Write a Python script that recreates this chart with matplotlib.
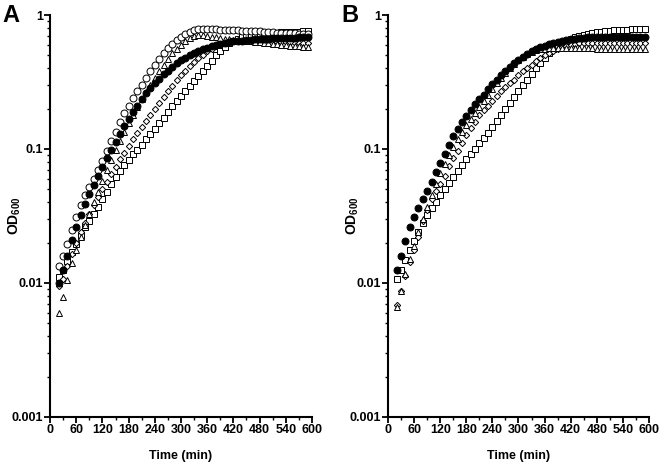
import numpy as np
import matplotlib
matplotlib.use("Agg")
from matplotlib import pyplot as plt
from matplotlib.ticker import LogLocator, FixedLocator, MultipleLocator, NullFormatter

plt.rcParams['font.family'] = ['Liberation Sans', 'DejaVu Sans']
plt.rcParams['font.weight'] = 'bold'
plt.rcParams['mathtext.fontset'] = 'custom'
plt.rcParams['mathtext.rm'] = 'Liberation Sans:bold'
plt.rcParams['mathtext.bf'] = 'Liberation Sans:bold'

# time points (min)
time_min = np.arange(20, 600, 10)

# panel A
a_filled = [0.010, 0.0125, 0.016, 0.021, 0.026, 0.032, 0.039, 0.046, 0.054, 0.063,
            0.073, 0.085, 0.098, 0.113, 0.13, 0.148, 0.168, 0.19, 0.21, 0.235,
            0.26, 0.285, 0.31, 0.335, 0.36, 0.385, 0.41, 0.435, 0.46, 0.48,
            0.50, 0.52, 0.54, 0.555, 0.57, 0.585, 0.60, 0.61, 0.62, 0.63,
            0.635, 0.64, 0.645, 0.65, 0.655, 0.66, 0.66, 0.665, 0.665, 0.67,
            0.67, 0.67, 0.675, 0.675, 0.675, 0.68, 0.68, 0.68]
a_circle = [0.0135, 0.016, 0.0195, 0.025, 0.031, 0.038, 0.045, 0.052, 0.06, 0.07,
            0.082, 0.097, 0.115, 0.135, 0.16, 0.185, 0.21, 0.24, 0.27, 0.30,
            0.34, 0.38, 0.42, 0.47, 0.52, 0.57, 0.61, 0.65, 0.69, 0.72,
            0.75, 0.77, 0.79, 0.79, 0.785, 0.78, 0.78, 0.775, 0.775, 0.77,
            0.77, 0.77, 0.765, 0.765, 0.76, 0.76, 0.755, 0.75, 0.75, 0.745,
            0.74, 0.74, 0.735, 0.73, 0.73, 0.725, 0.72, 0.72]
a_triangle = [0.006, 0.0078, 0.0105, 0.014, 0.0175, 0.022, 0.027, 0.033, 0.040, 0.048,
              0.058, 0.07, 0.083, 0.098, 0.115, 0.135, 0.155, 0.18, 0.205, 0.235,
              0.265, 0.30, 0.34, 0.38, 0.42, 0.47, 0.52, 0.56, 0.60, 0.64,
              0.67, 0.70, 0.71, 0.71, 0.70, 0.69, 0.68, 0.67, 0.665, 0.66,
              0.655, 0.65, 0.645, 0.64, 0.635, 0.63, 0.625, 0.62, 0.615, 0.61,
              0.605, 0.60, 0.595, 0.59, 0.59, 0.585, 0.58, 0.58]
a_diamond = [0.0095, 0.0108, 0.0133, 0.0165, 0.02, 0.024, 0.028, 0.033, 0.038, 0.044,
             0.05, 0.057, 0.065, 0.074, 0.084, 0.094, 0.105, 0.118, 0.131, 0.146,
             0.162, 0.18, 0.2, 0.22, 0.245, 0.27, 0.295, 0.325, 0.355, 0.385,
             0.415, 0.445, 0.475, 0.505, 0.535, 0.56, 0.585, 0.605, 0.62, 0.63,
             0.64, 0.645, 0.645, 0.645, 0.645, 0.64, 0.64, 0.64, 0.635, 0.635,
             0.63, 0.63, 0.625, 0.625, 0.62, 0.62, 0.615, 0.615]
a_square = [0.011, 0.0125, 0.0145, 0.017, 0.0195, 0.0225, 0.026, 0.029, 0.033, 0.037,
            0.042, 0.048, 0.055, 0.062, 0.069, 0.076, 0.083, 0.091, 0.099, 0.108,
            0.118, 0.129, 0.141, 0.155, 0.171, 0.19, 0.21, 0.23, 0.25, 0.27,
            0.295, 0.32, 0.35, 0.38, 0.415, 0.455, 0.50, 0.54, 0.58, 0.615,
            0.645, 0.665, 0.685, 0.70, 0.71, 0.72, 0.725, 0.73, 0.735, 0.74,
            0.74, 0.745, 0.745, 0.75, 0.75, 0.75, 0.755, 0.755]

# panel B
b_filled = [0.0125, 0.016, 0.0205, 0.026, 0.031, 0.036, 0.042, 0.049, 0.057, 0.067,
            0.078, 0.092, 0.108, 0.125, 0.142, 0.158, 0.175, 0.195, 0.215, 0.235,
            0.255, 0.28, 0.305, 0.33, 0.355, 0.38, 0.41, 0.44, 0.465, 0.49,
            0.515, 0.535, 0.555, 0.575, 0.59, 0.605, 0.62, 0.63, 0.64, 0.65,
            0.66, 0.665, 0.67, 0.675, 0.68, 0.685, 0.69, 0.69, 0.69, 0.69,
            0.69, 0.69, 0.685, 0.685, 0.685, 0.68, 0.68, 0.68]
b_triangle = [0.0066, 0.0087, 0.0117, 0.015, 0.019, 0.024, 0.03, 0.037, 0.045, 0.055,
              0.066, 0.077, 0.09, 0.104, 0.118, 0.133, 0.15, 0.168, 0.187, 0.207,
              0.23, 0.255, 0.28, 0.31, 0.34, 0.37, 0.40, 0.43, 0.46, 0.49,
              0.51, 0.53, 0.545, 0.555, 0.56, 0.565, 0.57, 0.57, 0.57, 0.57,
              0.57, 0.568, 0.566, 0.565, 0.565, 0.563, 0.562, 0.56, 0.56, 0.558,
              0.558, 0.556, 0.556, 0.555, 0.555, 0.555, 0.553, 0.553]
b_diamond = [0.0068, 0.0087, 0.0113, 0.0144, 0.0177, 0.022, 0.029, 0.035, 0.042, 0.049,
             0.055, 0.063, 0.075, 0.086, 0.097, 0.11, 0.127, 0.144, 0.16, 0.178,
             0.195, 0.21, 0.23, 0.25, 0.27, 0.29, 0.31, 0.33, 0.355, 0.38,
             0.40, 0.425, 0.45, 0.475, 0.50, 0.52, 0.54, 0.56, 0.575, 0.59,
             0.60, 0.61, 0.615, 0.62, 0.62, 0.62, 0.62, 0.62, 0.62, 0.62,
             0.62, 0.62, 0.618, 0.618, 0.618, 0.615, 0.615, 0.615]
b_square = [0.0108, 0.0126, 0.0148, 0.0175, 0.0205, 0.024, 0.028, 0.032, 0.036, 0.04,
            0.045, 0.05, 0.056, 0.062, 0.069, 0.076, 0.084, 0.092, 0.10, 0.11,
            0.12, 0.132, 0.147, 0.163, 0.18, 0.2, 0.22, 0.245, 0.27, 0.30,
            0.33, 0.36, 0.40, 0.44, 0.48, 0.52, 0.56, 0.59, 0.62, 0.645,
            0.665, 0.685, 0.70, 0.715, 0.725, 0.735, 0.745, 0.75, 0.76, 0.765,
            0.77, 0.77, 0.775, 0.775, 0.78, 0.78, 0.78, 0.785]

panels = [
    ('A', [a_square, a_diamond, a_triangle, a_circle, a_filled]),
    ('B', [b_square, b_diamond, b_triangle, None, b_filled]),
]
# marker style for each series, same order as above
styles = [
    dict(marker='s', ms=4.6, mfc='white'),
    dict(marker='D', ms=3.2, mfc='white'),
    dict(marker='^', ms=5.0, mfc='white'),
    dict(marker='o', ms=5.0, mfc='white'),
    dict(marker='o', ms=5.0, mfc='black'),
]

fig = plt.figure(figsize=(6.6, 4.66), dpi=100)
boxes = [[0.0758, 0.1052, 0.3969, 0.8626], [0.5879, 0.1052, 0.3954, 0.8626]]

for (letter, series), box in zip(panels, boxes):
    ax = fig.add_axes(box)
    for vals, st in zip(series, styles):
        if vals is None:
            continue
        ax.plot(time_min, vals, linestyle='none', color='black', mec='black',
                mew=0.7, clip_on=False, **st)
    ax.set_yscale('log')
    ax.set_xlim(0, 600)
    ax.set_ylim(0.001, 1)
    ax.xaxis.set_major_locator(MultipleLocator(60))
    ax.xaxis.set_minor_locator(MultipleLocator(30))
    ax.yaxis.set_major_locator(FixedLocator([0.001, 0.01, 0.1, 1]))
    ax.yaxis.set_minor_locator(LogLocator(base=10, subs=np.arange(2, 10)))
    ax.yaxis.set_minor_formatter(NullFormatter())
    ax.set_yticklabels(['0.001', '0.01', '0.1', '1'])
    for s in ['top', 'right']:
        ax.spines[s].set_visible(False)
    for s in ['left', 'bottom']:
        ax.spines[s].set_linewidth(1.5)
    ax.tick_params(which='major', length=4, width=1.3, labelsize=9, pad=1)
    ax.tick_params(which='minor', length=2.5, width=1.0)
    for lab in ax.get_xticklabels() + ax.get_yticklabels():
        lab.set_fontweight('bold')
    ax.set_xlabel('Time (min)', fontsize=9, fontweight='bold', labelpad=10)
    ax.set_ylabel(r'$\mathrm{OD_{600}}$', fontsize=10)
    ax.yaxis.set_label_coords(-0.105, 0.5)
    ax.text(-0.18, 1.0, letter, transform=ax.transAxes, fontsize=17,
            fontweight='bold', va='center', ha='left')

fig.savefig('out.png', dpi=100)
